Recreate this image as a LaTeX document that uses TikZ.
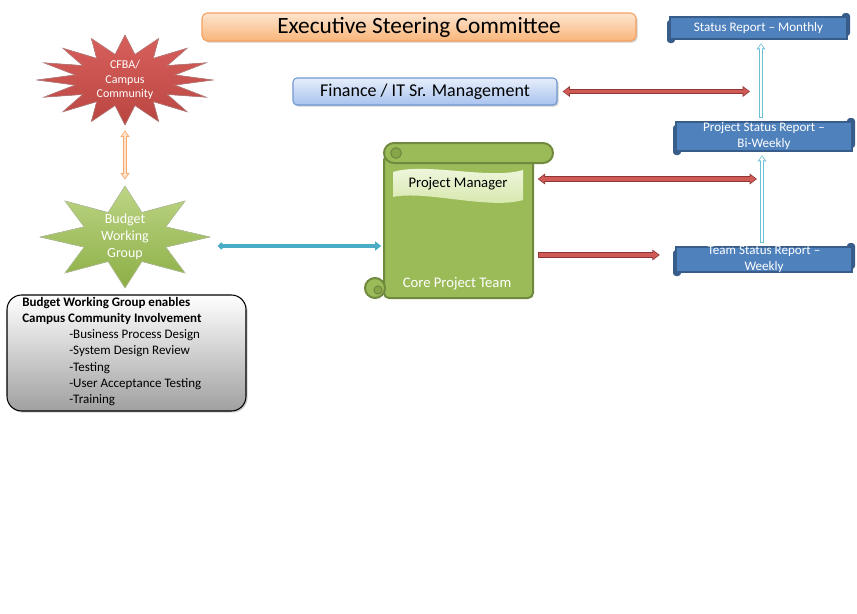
\documentclass[tikz,border=0pt]{standalone}
\usepackage{fontspec}
\setmainfont{Carlito}
\usetikzlibrary{arrows.meta,shadows,calc}
\definecolor{escTop}{HTML}{FDE5CF}
\definecolor{escBot}{HTML}{F9B57A}
\definecolor{escLine}{HTML}{F5A060}
\definecolor{finTop}{HTML}{E6EEFB}
\definecolor{finBot}{HTML}{A8C3EE}
\definecolor{finLine}{HTML}{7098D2}
\definecolor{redTop}{HTML}{D8605C}
\definecolor{redBot}{HTML}{B94541}
\definecolor{redFill}{HTML}{CF5A56}
\definecolor{redLine}{HTML}{8E3634}
\definecolor{grnTop}{HTML}{BDD585}
\definecolor{grnBot}{HTML}{8CAE45}
\definecolor{grnFill}{HTML}{9BBB59}
\definecolor{grnLine}{HTML}{71893F}
\definecolor{grnDark}{HTML}{87A64A}
\definecolor{banTop}{HTML}{F2F8E4}
\definecolor{banBot}{HTML}{D3E6A6}
\definecolor{bluFill}{HTML}{4F81BD}
\definecolor{bluLine}{HTML}{385D8A}
\definecolor{tealc}{HTML}{4BACC6}
\definecolor{ltblue}{HTML}{6CC0D6}
\definecolor{orgO}{HTML}{F8A66A}
\definecolor{orgI}{HTML}{FDE3CB}
\definecolor{grayBot}{HTML}{A0A0A0}

\tikzset{
  shadowed/.style={drop shadow={shadow xshift=1.2pt, shadow yshift=-1.2pt, opacity=0.3, fill=black!60}},
  escbox/.style={shadowed, draw=escLine, line width=0.8pt, rounded corners=4pt, top color=escTop, bottom color=escBot, minimum width=325.5pt, minimum height=21pt, inner sep=0pt, font=\fontsize{17.5}{20}\selectfont},
  finbox/.style={shadowed, draw=finLine, line width=0.8pt, rounded corners=3pt, top color=finTop, bottom color=finBot, minimum width=198pt, minimum height=20.25pt, inner sep=0pt, font=\fontsize{13.5}{16}\selectfont},
  startext/.style={text=white, align=center, inner sep=0pt},
  tbox/.style={shadowed, draw=black, line width=0.8pt, rounded corners=11pt, top color=white, bottom color=grayBot, minimum width=179.25pt, minimum height=87pt, inner sep=0pt},
  scroll/.style={fill=grnFill, draw=grnLine, line width=1.5pt},
  bluetext/.style={text=white, align=center, inner sep=0pt, font=\fontsize{9.8}{12}\selectfont},
  redO/.style={draw=redLine, line width=4pt},
  redI/.style={draw=redFill, line width=2.4pt, shorten >=0.9pt, shorten <=0.9pt},
  lbO/.style={draw=ltblue, line width=3.6pt},
  lbI/.style={draw=white, line width=1.9pt, shorten >=0.8pt, shorten <=0.8pt},
  orO/.style={draw=orgO, line width=3.6pt},
  orI/.style={draw=orgI, line width=2pt, shorten >=0.9pt, shorten <=0.9pt},
}

\newcommand\bluebox[6]{%
  \fill[bluLine, rounded corners=2.25pt] (#4-8,#3) rectangle (#4,#5-7);
  \fill[bluLine, rounded corners=2.25pt] (#2,#3+7) rectangle (#2+8,#5);
  \filldraw[fill=bluFill, draw=bluLine, line width=1.8pt] (#2+3,#3+4) rectangle (#4-3,#5-4);
  \node[bluetext, minimum width={(#4-#2)*0.75pt}, minimum height={(#5-#3)*0.75pt}] (#1) at ({(#2+#4)/2},{(#3+#5)/2}) {#6};}

\begin{document}
\begin{tikzpicture}[x=0.75pt, y=-0.75pt]
\fill[white] (0,0) rectangle (857,614);
\useasboundingbox (0,0) rectangle (857,614);

% top boxes
\node[escbox] (esc) at (419,27) {Executive Steering Committee};
\node[finbox] (fin) at (425,91.5) {Finance / IT Sr. Management};

% CFBA star
\begin{scope}[shift={(125,80)}]
 \begin{scope}[x=66pt, y=-33.75pt]
  \filldraw[top color=redTop, bottom color=redBot, draw=redLine!60, line width=0.4pt]
   (90:1) \foreach \k [evaluate=\k as \r using {ifthenelse(mod(\k,2)==0,1,0.58)}] in {1,...,31}{ -- ({90+\k*11.25}:\r)} -- cycle;
 \end{scope}
\end{scope}
\node[startext, font=\fontsize{9}{10.9}\selectfont, minimum width=132pt, minimum height=67.5pt] (cfba) at (125,80) {CFBA/\\Campus\\Community};

% BWG star
\begin{scope}[shift={(125,237)}]
 \begin{scope}[x=63.75pt, y=-38.25pt]
  \filldraw[top color=grnTop, bottom color=grnBot, draw=grnLine!50, line width=0.4pt]
   (90:1) \foreach \k [evaluate=\k as \r using {ifthenelse(mod(\k,2)==0,1,0.52)}] in {1,...,15}{ -- ({90+\k*22.5}:\r)} -- cycle;
 \end{scope}
\end{scope}
\node[startext, font=\fontsize{10.5}{12.75}\selectfont, minimum width=127.5pt, minimum height=76.5pt] (bwg) at (125,237) {Budget\\Working\\Group};

% text box
\node[tbox] (tb) at (126.5,353) {};
\node[anchor=west, align=left, inner sep=0pt, font=\fontsize{9.75}{12.15}\selectfont] (tbt) at (22,351.5)
 {\textbf{Budget Working Group enables}\\
  \textbf{Campus Community Involvement}\\
  \hspace*{35.25pt}-Business Process Design\\
  \hspace*{35.25pt}-System Design Review\\
  \hspace*{35.25pt}-Testing\\
  \hspace*{35.25pt}-User Acceptance Testing\\
  \hspace*{35.25pt}-Training};

% scroll
\filldraw[scroll, rounded corners=3.75pt] (384,155) -- (384,298) -- (533,298) -- (533,155) -- cycle;
\filldraw[scroll] (375,288) circle[radius=7.5pt];
\filldraw[draw=grnLine, fill=grnDark, line width=0.8pt] (378,290) circle[radius=3pt];
\filldraw[scroll, rounded corners=7.5pt] (384,143) rectangle (553,163);
\filldraw[draw=grnLine, fill=grnDark, line width=0.8pt] (396,153) circle[radius=4pt];
\node[minimum width=112.5pt, minimum height=109.5pt, inner sep=0pt] (core) at (458.5,225.5) {};
\node[text=white, font=\fontsize{11}{13}\selectfont, inner sep=0pt] (coret) at (457,284) {Core Project Team};
\shade[top color=banTop, bottom color=banBot] (393,172) .. controls (425,162) and (490,180) .. (523,170) -- (523,200) .. controls (490,210) and (425,190) .. (393,197) -- cycle;
\node[font=\fontsize{11}{13}\selectfont, inner sep=0pt] (pm) at (458,184) {Project Manager};

% report boxes
\bluebox{mon}{667}{13}{850}{43}{Status Report – Monthly}
\bluebox{biw}{673}{118}{855}{155}{Project Status Report –\\Bi-Weekly}
\bluebox{team}{673}{243}{855}{276}{Team Status Report –\\Weekly}

% coordinates
\coordinate (orA) at ($(cfba.south)+(0,5)$);
\coordinate (orB) at ($(bwg.north)+(0,-6)$);
\coordinate (lbx1) at (761,0);
\coordinate (lbx2) at (762,0);
\coordinate (fL) at ($(fin.east)+(5,0)$);
\coordinate (fR) at (750,91.5);
\coordinate (pL) at ($(core.east)+(4,-46.5)$);
\coordinate (pR) at (757,179);
\coordinate (tL) at ($(core.east)+(4,29.5)$);
\coordinate (tR) at ($(team.west)+(-13,-4.5)$);
\coordinate (tlL) at ($(bwg.east)+(8,9)$);

% orange
\draw[orO, {Triangle[length=5pt,width=6.5pt]}-{Triangle[length=5pt,width=6.5pt]}] (orA) -- (orB);
\draw[orI, {Triangle[length=3.4pt,width=4pt]}-{Triangle[length=3.4pt,width=4pt]}] (orA) -- (orB);

% light blue
\draw[lbO, -{Triangle[length=4.5pt,width=6.2pt]}] (biw.north -| lbx1) -- (mon.south -| lbx1);
\draw[lbI, -{Triangle[length=3pt,width=3.6pt]}] (biw.north -| lbx1) -- (mon.south -| lbx1);
\draw[lbO, -{Triangle[length=4.5pt,width=6.2pt]}] (team.north -| lbx2) -- (biw.south -| lbx2);
\draw[lbI, -{Triangle[length=3pt,width=3.6pt]}] (team.north -| lbx2) -- (biw.south -| lbx2);

% red
\draw[redO, {Triangle[length=5.5pt,width=7.8pt]}-{Triangle[length=5.5pt,width=7.8pt]}] (fL) -- (fR);
\draw[redI, {Triangle[length=4pt,width=5.4pt]}-{Triangle[length=4pt,width=5.4pt]}] (fL) -- (fR);
\draw[redO, {Triangle[length=5.5pt,width=7.8pt]}-{Triangle[length=5.5pt,width=7.8pt]}] (pL) -- (pR);
\draw[redI, {Triangle[length=4pt,width=5.4pt]}-{Triangle[length=4pt,width=5.4pt]}] (pL) -- (pR);
\draw[redO, -{Triangle[length=5.5pt,width=7.8pt]}] (tL) -- (tR);
\draw[redI, -{Triangle[length=4pt,width=5.4pt]}] (tL) -- (tR);

% teal
\draw[tealc, line width=3pt, {Circle[length=4.5pt]}-{Triangle[length=4.5pt,width=6.5pt]}, shorten >=1.5pt] (tlL) -- (tlL -| core.west);
\end{tikzpicture}
\end{document}
